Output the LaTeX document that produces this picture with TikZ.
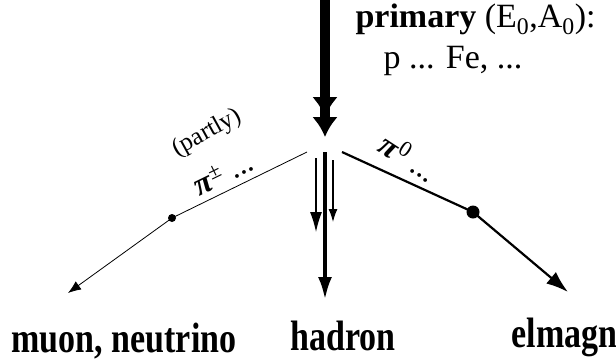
\documentclass[tikz,border=0pt]{standalone}
\usepackage{fontspec}
\setmainfont{Liberation Serif}
\usetikzlibrary{arrows, arrows.meta, positioning}

\begin{document}
\begin{tikzpicture}[x=1pt, y=-1pt,
			>=latex,   %default arrow tips
			dot/.style={circle, fill, inner sep=0pt, minimum size=#1},
			comp/.style={font=\bfseries\fontsize{34}{34}\selectfont, anchor=base},
			part/.style={font=\fontsize{32}{32}\selectfont}]
			%frame
			\useasboundingbox (0,0) rectangle (616,362);
			% points of the shower
			\coordinate (src) at (325,0);
			\coordinate (hit) at (325,137);
			\coordinate (lsrc) at (307,152);
			\coordinate (rsrc) at (342,152);
			\coordinate (hsrc) at (325,152);
			\coordinate (hend) at (325,300);
			\coordinate (musrc) at (316,158);
			\coordinate (muend) at (68,293);
			\coordinate (emend) at (568,292);
			\node[dot=8pt] (mudot) at (172,218) {};
			\node[dot=13pt] (emdot) at (473,212) {};
			% primary particle
			\draw[line width=10pt, -{Latex[length=20pt,width=26pt]Latex[length=20pt,width=26pt]}] (src) -- (hit);
			\node[anchor=base west, font=\fontsize{34}{34}\selectfont] (prim) at (352,27) {\textbf{primary} (E\textsubscript{0},A\textsubscript{0}):};
			\node[anchor=base west, font=\fontsize{34}{34}\selectfont] (nucl) at (380,68) {p ... Fe, ...};
			% muon component
			\draw[line width=0.8pt] (lsrc) -- (mudot.center);
			\draw[line width=0.8pt, -{Latex[length=13pt,width=10pt]}] (mudot.center) -- (muend);
			\node[font=\fontsize{25}{25}\selectfont, rotate=29] (partly) at (207,133) {(partly)};
			\node[part, rotate=26] (pic) at (223,173) {\textbf{\textit{π}}\textsuperscript{±} ...};
			% hadron component
			\draw[line width=4pt, -{Latex[length=23pt,width=14pt]}] (hsrc) -- (hend);
			\draw[line width=1.2pt, -{Latex[length=20pt,width=12pt]}] (musrc) -- (316,232);
			\draw[line width=1.2pt, -{Latex[length=13pt,width=9pt]}] (333,160) -- (333,222);
			% em component
			\draw[line width=2.2pt] (rsrc) -- (emdot.center);
			\draw[line width=2.2pt, -{Latex[length=22pt,width=15pt]}] (emdot.center) -- (emend);
			\node[part, rotate=-33] (pin) at (409,157) {\textbf{\textit{π}}\textsuperscript{0} ...};
			% names of the components
			\node[comp] (mu) at (124,352) {\scalebox{1}[1.25]{muon, neutrino}};
			\node[comp] (had) at (343,350) {\scalebox{1}[1.25]{hadron}};
			\node[comp, anchor=base west] (em) at (508,347) {\scalebox{1}[1.25]{elmagn}};
		\end{tikzpicture}
\end{document}
